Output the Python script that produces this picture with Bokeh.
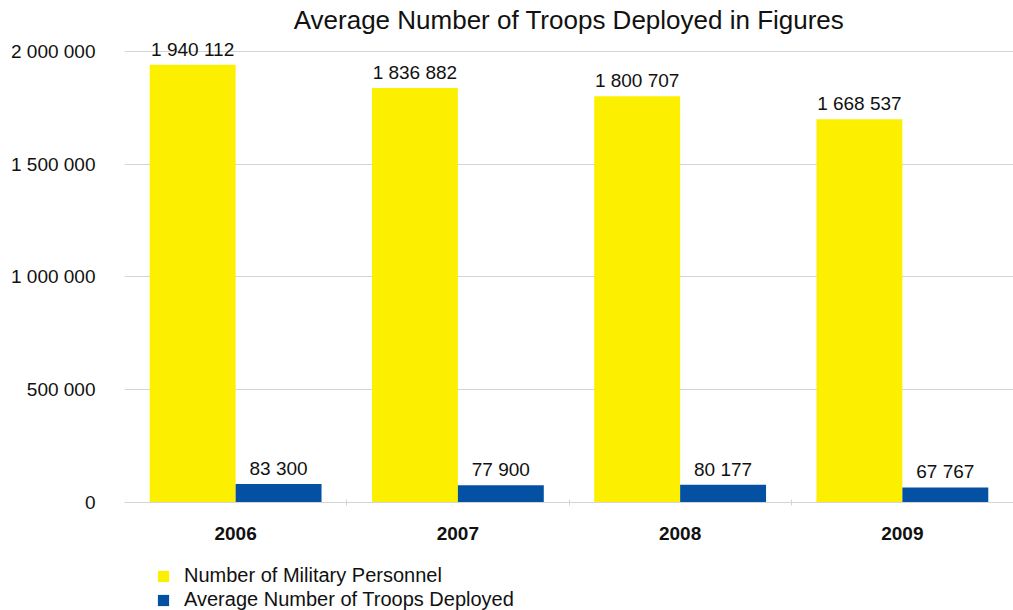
from bokeh.plotting import figure
from bokeh.models import (ColumnDataSource, FixedTicker, Range1d, LabelSet, Legend,
                          LegendItem, Title, LinearAxis)
from bokeh.core.properties import value
from bokeh.transform import dodge
from bokeh.embed import file_html
from bokeh.resources import INLINE

# ---- data ----
years = ["2006", "2007", "2008", "2009"]
personnel = [1940112, 1836882, 1800707, 1698537]
personnel_labels = ["1 940 112", "1 836 882", "1 800 707", "1 668 537"]
deployed = [83300, 77900, 80177, 67767]
deployed_labels = ["83 300", "77 900", "80 177", "67 767"]
y_ticks = [0, 500000, 1000000, 1500000, 2000000]
y_tick_labels = ["0", "500 000", "1 000 000", "1 500 000", "2 000 000"]
series_names = ["Number of Military Personnel", "Average Number of Troops Deployed"]

YELLOW = "#FCF000"
BLUE = "#0451A3"
GRID = "#D4D4D4"
FONT = "Liberation Sans"

xpos = [i + 0.5 for i in range(len(years))]
src = ColumnDataSource(dict(x=xpos, p=personnel, pl=personnel_labels,
                            d=deployed, dl=deployed_labels))

p = figure(width=1013, height=610, output_backend="svg", toolbar_location=None,
           x_range=Range1d(0, len(years)), y_range=Range1d(-477000, 2056000),
           x_axis_location=None,
           min_border_left=124, min_border_right=0, min_border_top=38,
           min_border_bottom=0)
p.outline_line_color = None
p.background_fill_color = "white"
p.border_fill_color = "white"

p.add_layout(Title(text="Average Number of Troops Deployed in Figures", align="center",
                   vertical_align="top",
                   text_font=FONT, text_font_size="26px", text_font_style="normal",
                   text_color="#111111", standoff=3), "above")

bw = 0.3865
off = 0.1933
r1 = p.vbar(x=dodge("x", -off, range=p.x_range), top="p", width=bw, source=src,
            fill_color=YELLOW, line_color=None)
r2 = p.vbar(x=dodge("x", off, range=p.x_range), top="d", width=bw, source=src,
            fill_color=BLUE, line_color=None)

for col, lab, o in (("p", "pl", -off), ("d", "dl", off)):
    p.add_layout(LabelSet(x=dodge("x", o, range=p.x_range), y=col, text=lab, source=src,
                          text_align="center", text_baseline="alphabetic", y_offset=9,
                          text_font=value(FONT), text_font_size=value("19px"),
                          text_color="#111111"))

# x axis drawn at y = 0
xaxis = LinearAxis(fixed_location=0,
                   ticker=FixedTicker(ticks=xpos, minor_ticks=[1, 2, 3]),
                   major_label_overrides={x: y for x, y in zip(xpos, years)})
xaxis.major_tick_in = 0
xaxis.major_tick_out = 0
xaxis.minor_tick_in = 3
xaxis.minor_tick_out = 3
xaxis.minor_tick_line_color = GRID
xaxis.axis_line_color = GRID
xaxis.major_label_standoff = 21
xaxis.major_label_text_font = FONT
xaxis.major_label_text_font_size = "19px"
xaxis.major_label_text_font_style = "bold"
xaxis.major_label_text_color = "#111111"
p.add_layout(xaxis, "below")

p.yaxis.ticker = FixedTicker(ticks=y_ticks)
p.yaxis.major_label_overrides = {t: l for t, l in zip(y_ticks, y_tick_labels)}
p.yaxis.axis_line_color = None
p.yaxis.major_tick_line_color = None
p.yaxis.minor_tick_line_color = None
p.yaxis.major_tick_in = 0
p.yaxis.major_tick_out = 0
p.yaxis.major_label_standoff = 29
p.yaxis.major_label_text_font = FONT
p.yaxis.major_label_text_font_size = "19px"
p.yaxis.major_label_text_color = "#111111"

p.xgrid.grid_line_color = None
p.ygrid.ticker = FixedTicker(ticks=y_ticks)
p.ygrid.grid_line_color = GRID
p.ygrid.grid_line_width = 1

legend = Legend(items=[LegendItem(label=series_names[0], renderers=[r1]),
                       LegendItem(label=series_names[1], renderers=[r2])],
                location=(32, -1), orientation="vertical",
                glyph_width=14, glyph_height=14, label_height=23,
                label_standoff=14, spacing=1, padding=0, margin=0,
                label_text_font=FONT, label_text_font_size="20px",
                label_text_color="#111111",
                background_fill_alpha=0, border_line_color=None)
p.add_layout(legend, "center")

open("out.html", "w").write(file_html(p, INLINE))
